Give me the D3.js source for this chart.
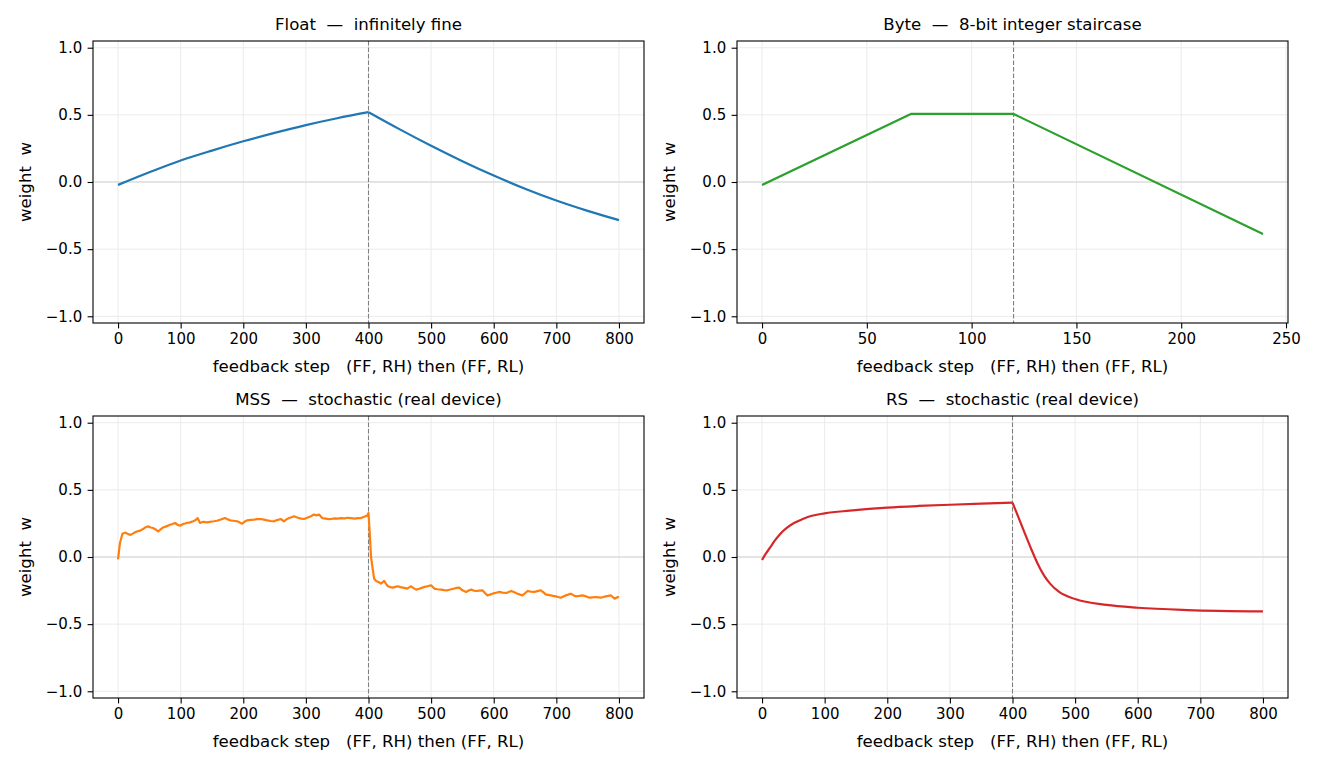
<!DOCTYPE html>
<html>
<head>
<meta charset="utf-8">
<script src="https://cdn.jsdelivr.net/npm/d3@7"></script>
<style>
  body { margin: 0; background: #fff; }
  text { font-family: "DejaVu Sans", sans-serif; fill: #000; }
</style>
</head>
<body>
<div id="chart"></div>
<script>
// ---- data ----
const floatSteps = [0, 50, 100, 150, 200, 250, 300, 350, 400, 450, 500, 550, 600, 650, 700, 750, 800];
const floatW = [-0.022, 0.072, 0.160, 0.234, 0.303, 0.366, 0.424, 0.475, 0.520,
  0.392, 0.270, 0.155, 0.048, -0.050, -0.138, -0.215, -0.284];

const byteSteps = [0, 71, 120, 239];
const byteW = [-0.022, 0.507, 0.507, -0.388];

const rsSteps = [0, 6, 13, 20, 29, 40, 51, 65, 78, 100, 140, 200, 250, 300, 350, 400,
  410, 420, 430, 440, 450, 460, 475, 500, 550, 600, 680, 800];
const rsW = [-0.022, 0.025, 0.071, 0.120, 0.172, 0.218, 0.253, 0.283, 0.305, 0.325, 0.345, 0.368, 0.380, 0.389, 0.397, 0.405,
  0.290, 0.172, 0.058, -0.048, -0.135, -0.198, -0.262, -0.313, -0.357, -0.378, -0.395, -0.405];

const mssSteps = [0, 3, 7, 12, 16, 20, 25, 30, 35, 40, 44, 48, 52, 56, 60, 64, 68, 72, 77, 83, 87, 91, 95, 99,
  104, 110, 115, 120, 124, 127, 131, 136, 142, 147, 153, 158, 163, 167, 171, 175, 179, 184, 190, 194, 198,
  202, 206, 212, 217, 222, 228, 233, 238, 244, 249, 254, 260, 265, 269, 273, 277, 281, 285, 289, 293, 297,
  302, 308, 313, 317, 321, 326, 332, 336, 340, 346, 351, 356, 362, 367, 372, 378, 383, 388, 393, 398,
  400, 402, 404, 407, 409, 412, 415, 418, 420, 423, 425, 428, 431, 435, 439, 443, 447, 451, 455, 459, 462,
  465, 468, 472, 476, 481, 486, 490, 494, 500, 505, 510, 516, 521, 526, 531, 537, 541, 545, 550, 556, 560,
  564, 568, 572, 577, 582, 586, 590, 594, 598, 604, 609, 614, 620, 624, 628, 633, 638, 642, 646, 650, 654,
  659, 665, 670, 675, 679, 683, 687, 691, 695, 699, 703, 707, 711, 715, 719, 723, 727, 731, 737, 742, 748,
  753, 758, 763, 767, 771, 775, 779, 783, 787, 790, 793, 796, 798, 800];
const mssW = [-0.017, 0.103, 0.173, 0.182, 0.170, 0.165, 0.178, 0.190, 0.196, 0.208, 0.222, 0.228, 0.220, 0.216,
  0.205, 0.190, 0.206, 0.220, 0.228, 0.240, 0.246, 0.253, 0.240, 0.233,
  0.246, 0.253, 0.258, 0.266, 0.275, 0.290, 0.253, 0.262, 0.258, 0.262, 0.266, 0.270, 0.278, 0.284, 0.290,
  0.280, 0.273, 0.270, 0.266, 0.258, 0.248,
  0.262, 0.273, 0.276, 0.278, 0.282, 0.283, 0.278, 0.273, 0.268, 0.266, 0.275, 0.283, 0.266, 0.280, 0.290,
  0.296, 0.303, 0.296, 0.290, 0.286, 0.283,
  0.292, 0.303, 0.316, 0.310, 0.316, 0.290, 0.286, 0.282, 0.283, 0.288, 0.286, 0.290, 0.288, 0.292, 0.290,
  0.286, 0.290, 0.290, 0.300, 0.308,
  0.328, 0.178, 0.002, -0.098, -0.160, -0.178, -0.185, -0.192, -0.198, -0.186, -0.178, -0.200, -0.218, -0.224,
  -0.228, -0.222, -0.218, -0.224, -0.228, -0.232, -0.235,
  -0.226, -0.218, -0.232, -0.243, -0.236, -0.228, -0.222, -0.218, -0.211, -0.235, -0.240, -0.243, -0.246,
  -0.248, -0.242, -0.235, -0.230, -0.228, -0.248, -0.260, -0.250,
  -0.243, -0.250, -0.253, -0.250, -0.248, -0.268, -0.286, -0.280, -0.273, -0.266, -0.260, -0.265, -0.268,
  -0.260, -0.253, -0.262, -0.273, -0.280, -0.286, -0.270, -0.253,
  -0.258, -0.260, -0.254, -0.248, -0.262, -0.278, -0.282, -0.286, -0.290, -0.293, -0.298, -0.303, -0.295,
  -0.286, -0.280, -0.273, -0.284, -0.293, -0.290, -0.286, -0.294,
  -0.303, -0.300, -0.298, -0.300, -0.303, -0.298, -0.293, -0.290, -0.286, -0.298, -0.310, -0.304, -0.298, -0.302];

const yTicks = [-1.0, -0.5, 0.0, 0.5, 1.0];
const stepTicks = [0, 100, 200, 300, 400, 500, 600, 700, 800];
const byteTicks = [0, 50, 100, 150, 200, 250];

const xLabel = "feedback step   (FF, RH) then (FF, RL)";
const yLabel = "weight  w";

// Function to pair up steps and weights
function zipPoints(steps, ws) {
  return steps.map((s, i) => ({ step: s, w: ws[i] }));
}

const panels = [
  { title: "Float  \u2014  infinitely fine", steps: floatSteps, ws: floatW, color: "#1f77b4",
    xMax: 800, ticks: stepTicks, switchAt: 400, curve: d3.curveMonotoneX, split: true },
  { title: "Byte  \u2014  8-bit integer staircase", steps: byteSteps, ws: byteW, color: "#2ca02c",
    xMax: 239, ticks: byteTicks, switchAt: 120, curve: d3.curveLinear, split: false },
  { title: "MSS  \u2014  stochastic (real device)", steps: mssSteps, ws: mssW, color: "#ff7f0e",
    xMax: 800, ticks: stepTicks, switchAt: 400, curve: d3.curveLinear, split: false },
  { title: "RS  \u2014  stochastic (real device)", steps: rsSteps, ws: rsW, color: "#d62728",
    xMax: 800, ticks: stepTicks, switchAt: 400, curve: d3.curveMonotoneX, split: true },
];

const width = 1320, height = 768;
const boxes = [
  { left: 93, top: 41 }, { left: 737, top: 41 },
  { left: 93, top: 416 }, { left: 737, top: 416 },
];
const boxW = 551, boxH = 282;
const labelSize = "16.6px", tickFont = "15px";

const svg = d3.select("#chart").append("svg")
  .attr("width", width).attr("height", height);
svg.append("rect").attr("width", width).attr("height", height).attr("fill", "#fff");

const fmtY = (d) => (d < 0 ? "\u2212" : "") + Math.abs(d).toFixed(1);

panels.forEach((p, i) => {
  const b = boxes[i];
  const g = svg.append("g").attr("transform", `translate(${b.left},${b.top})`);
  const pad = p.xMax * 0.05;

  const x = d3.scaleLinear().domain([-pad, p.xMax + pad]).range([0, boxW]);
  const y = d3.scaleLinear().domain([-1.05, 1.05]).range([boxH, 0]);

  // grid
  g.append("g").selectAll("line").data(p.ticks).enter().append("line")
    .attr("x1", (d) => x(d)).attr("x2", (d) => x(d))
    .attr("y1", 0).attr("y2", boxH)
    .attr("stroke", "#ebebeb").attr("stroke-width", 1);
  g.append("g").selectAll("line").data(yTicks).enter().append("line")
    .attr("x1", 0).attr("x2", boxW)
    .attr("y1", (d) => y(d)).attr("y2", (d) => y(d))
    .attr("stroke", "#ebebeb").attr("stroke-width", 1);

  // zero line
  g.append("line")
    .attr("x1", 0).attr("x2", boxW).attr("y1", y(0)).attr("y2", y(0))
    .attr("stroke", "#d3d3d3").attr("stroke-width", 1.1);

  // phase switch
  g.append("line")
    .attr("x1", x(p.switchAt)).attr("x2", x(p.switchAt)).attr("y1", 0).attr("y2", boxH)
    .attr("stroke", "#808080").attr("stroke-width", 1.1).attr("stroke-dasharray", "4.5,2");

  // data line
  const pts = zipPoints(p.steps, p.ws);
  const line = d3.line().x((d) => x(d.step)).y((d) => y(d.w)).curve(p.curve);
  const parts = p.split
    ? [pts.filter((d) => d.step <= p.switchAt), pts.filter((d) => d.step >= p.switchAt)]
    : [pts];
  parts.forEach((part) => {
    g.append("path").datum(part).attr("d", line)
      .attr("fill", "none").attr("stroke", p.color).attr("stroke-width", 2.2)
      .attr("stroke-linejoin", "round");
  });

  // axes
  const xAxis = g.append("g").attr("transform", `translate(0,${boxH})`)
    .call(d3.axisBottom(x).tickValues(p.ticks).tickSize(5.4).tickPadding(5.4).tickFormat(d3.format("d")));
  const yAxis = g.append("g")
    .call(d3.axisLeft(y).tickValues(yTicks).tickSize(5.4).tickPadding(5.4).tickFormat(fmtY));
  [xAxis, yAxis].forEach((a) => {
    a.select(".domain").remove();
    a.selectAll("line").attr("stroke", "#000").attr("stroke-width", 1.1);
    a.selectAll("text").style("font-family", "DejaVu Sans").style("font-size", tickFont).attr("fill", "#000");
  });

  // frame
  g.append("rect").attr("width", boxW).attr("height", boxH)
    .attr("fill", "none").attr("stroke", "#000").attr("stroke-width", 1.1);

  // title and labels
  g.append("text").attr("x", boxW / 2).attr("y", -11).attr("text-anchor", "middle")
    .style("font-size", labelSize).style("white-space", "pre").text(p.title);
  g.append("text").attr("x", boxW / 2).attr("y", boxH + 49).attr("text-anchor", "middle")
    .style("font-size", labelSize).style("white-space", "pre").text(xLabel);
  g.append("text").attr("transform", `translate(-62,${boxH / 2}) rotate(-90)`)
    .attr("text-anchor", "middle").style("font-size", labelSize).style("white-space", "pre").text(yLabel);
});
</script>
</body>
</html>
